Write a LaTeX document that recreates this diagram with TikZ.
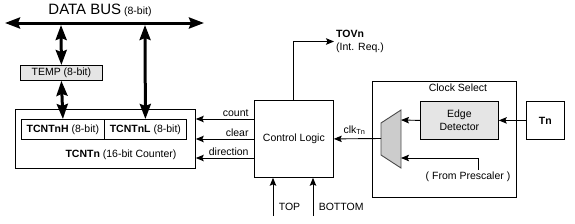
\documentclass[tikz,border=0pt]{standalone}
\usepackage{fontspec}
\setmainfont{Liberation Sans}
\usetikzlibrary{positioning,arrows.meta,calc}

\begin{document}
\begin{tikzpicture}[x=1pt, y=-1pt,
  every node/.style={font=\fontsize{10.5}{13}\selectfont},
  box/.style={draw=black, line width=0.8pt, inner sep=0pt, anchor=north west, align=center},
  sig/.style={-{Stealth[length=8pt, width=6.5pt, inset=1.5pt]}, line width=0.9pt},
  bus/.style={{Stealth[length=15pt, width=11pt, inset=2pt]}-{Stealth[length=15pt, width=11pt, inset=2pt]}, line width=3pt}]

  \useasboundingbox (0,0) rectangle (575,223);

  % data bus
  \coordinate (busL) at (5,23);
  \coordinate (busR) at (204,23);
  \draw[bus] (busL) -- (busR);
  \node[anchor=south] (buslbl) at (100,20) {{\fontsize{15}{17}\selectfont DATA BUS} (8-bit)};

  % counter and temp register
  \node[box, fill=black!10, minimum width=82pt, minimum height=15pt] (temp) at (20,65) {TEMP (8-bit)};
  \node[box, minimum width=180pt, minimum height=59pt] (counter) at (15,109) {};
  \node[box, minimum width=83pt, minimum height=20pt] (tcnth) at (21,119) {\textbf{TCNTnH} (8-bit)};
  \node[box, minimum width=82pt, minimum height=20pt] (tcntl) at (104,119) {\textbf{TCNTnL} (8-bit)};
  \node (cntlbl) at (121,155) {\textbf{TCNTn} (16-bit Counter)};

  \coordinate (tempbus) at (61,25);
  \coordinate (lowbus) at (145,25);
  \draw[bus] (tempbus) -- (temp.north);
  \draw[bus] (temp.south) -- (tcnth.north);
  \draw[bus] (lowbus) -- (tcntl.north);

  % control logic
  \node[box, minimum width=79pt, minimum height=77pt] (ctrl) at (254,100) {};
  \node (ctrllbl) at (ctrl.center) {Control Logic};

  \coordinate (cnt) at (254,119);
  \coordinate (clr) at (254,139);
  \coordinate (dir) at (254,158);
  \draw[sig] (cnt) -- node[pos=0, anchor=south east, xshift=-3pt, inner sep=2pt]{count} (cnt -| counter.east);
  \draw[sig] (clr) -- node[pos=0, anchor=south east, xshift=-3pt, inner sep=2pt]{clear} (clr -| counter.east);
  \draw[sig] (dir) -- node[pos=0, anchor=south east, xshift=-3pt, inner sep=2pt]{direction} (dir -| counter.east);

  \node[anchor=west, align=left, inner sep=2pt] (tovn) at (334,41.5) {\textbf{TOVn}\\(Int. Req.)};
  \draw[sig] (ctrl.north) |- (tovn.west);

  \coordinate (topin) at (273,216);
  \coordinate (botin) at (313,216);
  \draw[sig] (topin) -- node[pos=0.24, right, xshift=2pt]{TOP} (topin |- ctrl.south);
  \draw[sig] (botin) -- node[pos=0.24, right, xshift=2pt]{BOTTOM} (botin |- ctrl.south);

  % clock select
  \node[box, minimum width=144pt, minimum height=116pt] (clksel) at (372,81) {};
  \node (clksellbl) at (458,88) {Clock Select};
  \node[box, fill=black!10, minimum width=78pt, minimum height=38pt] (edge) at (420,101) {Edge\\Detector};
  \node[box, minimum width=38pt, minimum height=38pt] (tn) at (526,101) {\textbf{Tn}};
  \node (presc) at (468,177) {( From Prescaler )};

  \draw[fill=black!20, draw=black!70, line width=0.9pt] (381,123) -- (401,110) -- (401,168) -- (381,155) -- cycle;
  \coordinate (muxout) at (381,138.5);
  \coordinate (muxa) at (401,120);
  \coordinate (muxb) at (401,158);
  \coordinate (prescup) at (478,170);

  \draw[sig] (tn.west) -- (edge.east);
  \draw[sig] (edge.west) -- (muxa);
  \draw[sig] (prescup) |- (muxb);
  \draw[sig] (muxout) -- node[above, pos=0.56]{clk\textsubscript{Tn}} (ctrl.east);
\end{tikzpicture}
\end{document}
